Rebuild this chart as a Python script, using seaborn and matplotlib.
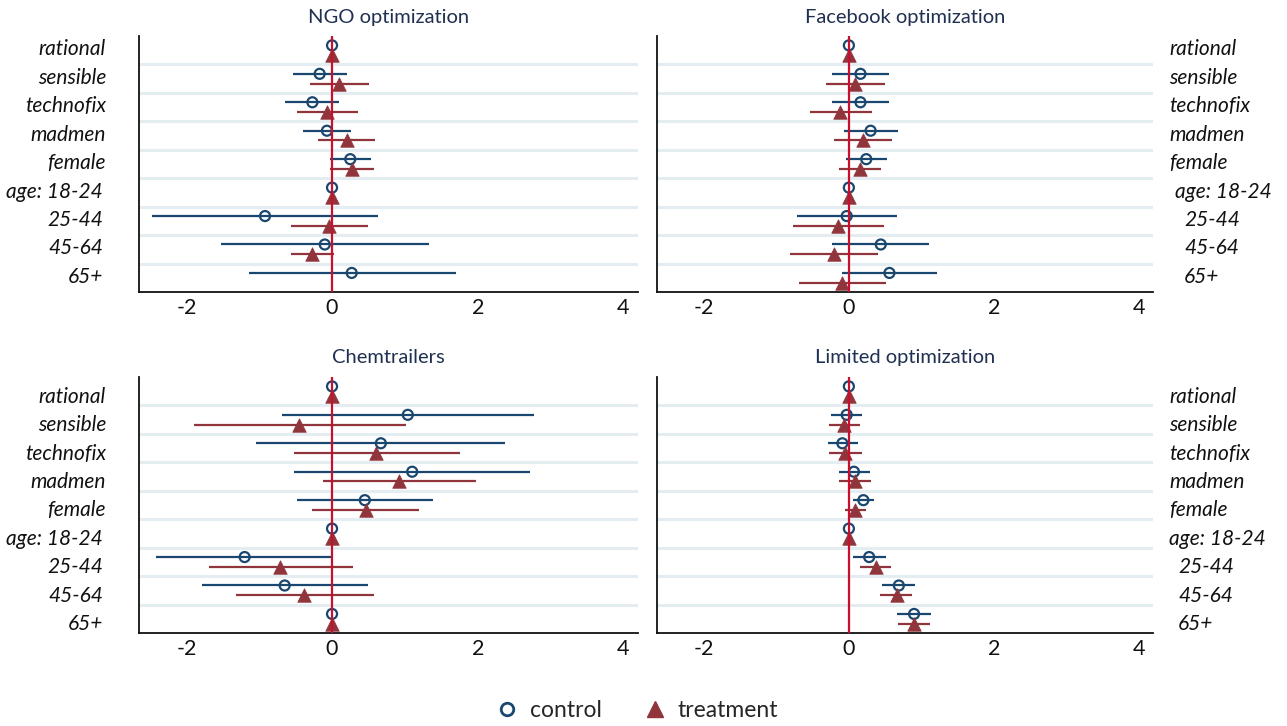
import numpy as np
import pandas as pd
import matplotlib
matplotlib.use("Agg")
import matplotlib.pyplot as plt
import matplotlib.transforms as mtransforms
from matplotlib.lines import Line2D
import seaborn as sns

# ---------------- data ----------------
categories = ["rational", "sensible", "technofix", "madmen", "female",
              "age: 18-24", "25-44", "45-64", "65+"]
panels = ["NGO optimization", "Facebook optimization", "Chemtrailers", "Limited optimization"]
xticks = [-2, 0, 2, 4]

ngo_ctrl = [0.0, -0.17, -0.27, -0.07, 0.25, 0.0, -0.92, -0.10, 0.27]
ngo_ctrl_lo = [np.nan, -0.53, -0.64, -0.40, -0.03, np.nan, -2.47, -1.53, -1.14]
ngo_ctrl_hi = [np.nan, 0.20, 0.10, 0.26, 0.54, np.nan, 0.63, 1.33, 1.70]
ngo_trt = [0.0, 0.10, -0.07, 0.20, 0.27, 0.0, -0.04, -0.27, np.nan]
ngo_trt_lo = [np.nan, -0.30, -0.48, -0.19, -0.03, np.nan, -0.57, -0.57, np.nan]
ngo_trt_hi = [np.nan, 0.51, 0.36, 0.59, 0.57, np.nan, 0.49, 0.03, np.nan]

fb_ctrl = [0.0, 0.16, 0.16, 0.30, 0.24, 0.0, -0.03, 0.44, 0.56]
fb_ctrl_lo = [np.nan, -0.24, -0.24, -0.07, -0.04, np.nan, -0.72, -0.23, -0.09]
fb_ctrl_hi = [np.nan, 0.55, 0.56, 0.68, 0.52, np.nan, 0.67, 1.10, 1.22]
fb_trt = [0.0, 0.09, -0.12, 0.19, 0.15, 0.0, -0.15, -0.21, -0.10]
fb_trt_lo = [np.nan, -0.32, -0.54, -0.21, -0.13, np.nan, -0.77, -0.81, -0.69]
fb_trt_hi = [np.nan, 0.50, 0.32, 0.59, 0.45, np.nan, 0.48, 0.40, 0.51]

chem_ctrl = [0.0, 1.04, 0.67, 1.10, 0.45, 0.0, -1.20, -0.65, 0.0]
chem_ctrl_lo = [np.nan, -0.69, -1.04, -0.52, -0.48, np.nan, -2.41, -1.79, np.nan]
chem_ctrl_hi = [np.nan, 2.77, 2.38, 2.72, 1.39, np.nan, 0.0, 0.50, np.nan]
chem_trt = [0.0, -0.45, 0.61, 0.92, 0.46, 0.0, -0.71, -0.38, 0.0]
chem_trt_lo = [np.nan, -1.90, -0.52, -0.12, -0.27, np.nan, -1.69, -1.32, np.nan]
chem_trt_hi = [np.nan, 1.01, 1.75, 1.97, 1.19, np.nan, 0.29, 0.57, np.nan]

lim_ctrl = [0.0, -0.03, -0.09, 0.07, 0.20, 0.0, 0.28, 0.69, 0.90]
lim_ctrl_lo = [np.nan, -0.25, -0.29, -0.13, 0.06, np.nan, 0.06, 0.46, 0.67]
lim_ctrl_hi = [np.nan, 0.18, 0.13, 0.29, 0.35, np.nan, 0.51, 0.92, 1.13]
lim_trt = [0.0, -0.07, -0.05, 0.08, 0.08, 0.0, 0.37, 0.66, 0.90]
lim_trt_lo = [np.nan, -0.28, -0.28, -0.14, -0.06, np.nan, 0.15, 0.43, 0.68]
lim_trt_hi = [np.nan, 0.16, 0.18, 0.31, 0.24, np.nan, 0.58, 0.87, 1.12]

panel_data = {
    "NGO optimization": (ngo_ctrl, ngo_ctrl_lo, ngo_ctrl_hi, ngo_trt, ngo_trt_lo, ngo_trt_hi),
    "Facebook optimization": (fb_ctrl, fb_ctrl_lo, fb_ctrl_hi, fb_trt, fb_trt_lo, fb_trt_hi),
    "Chemtrailers": (chem_ctrl, chem_ctrl_lo, chem_ctrl_hi, chem_trt, chem_trt_lo, chem_trt_hi),
    "Limited optimization": (lim_ctrl, lim_ctrl_lo, lim_ctrl_hi, lim_trt, lim_trt_lo, lim_trt_hi),
}

# ---------------- style ----------------
sns.set_theme(style="white")
plt.rcParams["font.family"] = ["Lato", "DejaVu Sans"]

NAVY = "#1a476f"
MAROON = "#90353b"
ZERO = "#c8102e"
GRID = "#e4edf1"
TITLE = "#1f3050"

W, H = 1287, 726
fig = plt.figure(figsize=(W / 100, H / 100), dpi=100)

def px_axes(left, top, right, bottom):
    return fig.add_axes([left / W, 1 - bottom / H, (right - left) / W, (bottom - top) / H])

axes_rect = {
    "NGO optimization": (139, 36, 638, 292),
    "Facebook optimization": (657, 36, 1153, 292),
    "Chemtrailers": (139, 377, 638, 633),
    "Limited optimization": (657, 377, 1153, 633),
}

rows = np.arange(1, len(categories) + 1)
off = 0.17

for i, name in enumerate(panels):
    ax = px_axes(*axes_rect[name])
    c, clo, chi, t, tlo, thi = panel_data[name]
    df = pd.DataFrame({
        "category": categories * 2,
        "group": ["control"] * len(categories) + ["treatment"] * len(categories),
        "est": list(c) + list(t),
        "lo": list(clo) + list(tlo),
        "hi": list(chi) + list(thi),
        "ypos": list(rows - off) + list(rows + off),
    })

    # gridlines between rows
    for g in rows[:-1] + 0.5:
        ax.axhline(g, color=GRID, lw=2.2, zorder=0)

    dc = df[df.group == "control"]
    dt = df[df.group == "treatment"]
    ax.hlines(dc["ypos"], dc["lo"], dc["hi"], color=NAVY, lw=1.6, zorder=2)
    ax.hlines(dt["ypos"], dt["lo"], dt["hi"], color=MAROON, lw=1.6, zorder=2)

    sns.scatterplot(data=dc, x="est", y="ypos", ax=ax, marker="o", s=52,
                    facecolors="none", edgecolor=NAVY, linewidth=1.6, zorder=3, legend=False)
    sns.scatterplot(data=dt, x="est", y="ypos", ax=ax, marker="^", s=95,
                    color=MAROON, edgecolor=MAROON, linewidth=0.5, zorder=3, legend=False)

    ax.axvline(0, color=ZERO, lw=1.6, zorder=4)

    ax.set_xlim(-2.65, 4.2)
    ax.set_ylim(9.5, 0.5)
    ax.set_xticks(xticks)
    ax.set_xticklabels([str(v) for v in xticks], fontsize=15.5, color="#111111")
    ax.tick_params(axis="x", length=3, width=1, pad=1, color="#111111")
    ax.set_yticks([])
    ax.set_xlabel("")
    ax.set_ylabel("")
    for s in ["top", "right"]:
        ax.spines[s].set_visible(False)
    for s in ["left", "bottom"]:
        ax.spines[s].set_color("#111111")
        ax.spines[s].set_linewidth(1.3)

    top_row = i < 2
    ax.set_title(name, fontsize=14.5, color=TITLE, pad=9 if top_row else 10)

    yoff = -0.03 if top_row else 0.19
    left_side = (i % 2 == 0)
    for k, lab in enumerate(categories):
        if left_side:
            dx = -33 if k < 5 else -36
            x0, ha = 0.0, "right"
        else:
            if top_row:
                dx = 16 if k < 5 else (22 if k == 5 else 31)
            else:
                dx = 16 if k < 6 else 25
            x0, ha = 1.0, "left"
        tr = ax.get_yaxis_transform() + mtransforms.ScaledTranslation(dx / 100, 0, fig.dpi_scale_trans)
        ax.text(x0, rows[k] + yoff, lab, transform=tr, ha=ha, va="center",
                fontsize=15, style="italic", color="#111111")

handles = [
    Line2D([], [], ls="none", marker="o", markersize=9, markerfacecolor="none",
           markeredgecolor=NAVY, markeredgewidth=2),
    Line2D([], [], ls="none", marker="^", markersize=12, color=MAROON),
]
fig.legend(handles, ["control", "treatment"], loc="center", bbox_to_anchor=(0.494, 0.021),
           ncol=2, frameon=False, fontsize=16.5, handletextpad=0.4, columnspacing=1.7,
           handlelength=1.2)

fig.savefig("out.png", dpi=100)
